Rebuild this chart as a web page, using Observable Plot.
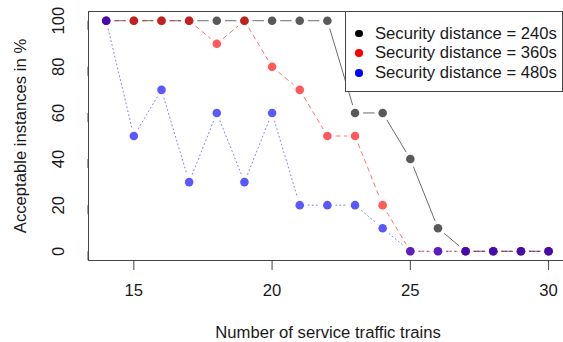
<!DOCTYPE html>
<html>
<head>
<meta charset="utf-8">
<script src="https://cdn.jsdelivr.net/npm/d3@7"></script>
<script src="https://cdn.jsdelivr.net/npm/@observablehq/plot@0.6"></script>
<style>
  html, body { margin: 0; padding: 0; background: #fff; overflow: hidden; }
  #wrap { position: relative; width: 563px; height: 342px; font-family: "Liberation Sans", Arial, Helvetica, sans-serif; }
  #legend { position: absolute; left: 345px; top: 11px; width: 218px; height: 81px; box-sizing: border-box;
            border: 1px solid #444; background: #fff; padding-top: 11.5px; }
  .row { position: relative; height: 19.7px; line-height: 19.7px; font-size: 16.67px; color: #1a1a1a; white-space: nowrap; }
  .dot { position: absolute; left: 9px; top: 6.3px; width: 7.5px; height: 7.5px; border-radius: 50%; }
  .lab { position: absolute; left: 29px; top: 0; }
</style>
</head>
<body>
<div id="wrap"></div>
<script>
// ---- data ----
const trains = [14, 15, 16, 17, 18, 19, 20, 21, 22, 23, 24, 25, 26, 27, 28, 29, 30];
const sd240 = [100, 100, 100, 100, 100, 100, 100, 100, 100, 60, 60, 40, 10, 0, 0, 0, 0];
const sd360 = [100, 100, 100, 100, 90, 100, 80, 70, 50, 50, 20, 0, 0, 0, 0, 0, 0];
const sd480 = [100, 50, 70, 30, 60, 30, 60, 20, 20, 20, 10, 0, 0, 0, 0, 0, 0];
const seriesNames = ["Security distance = 240s", "Security distance = 360s", "Security distance = 480s"];
const xTicks = [15, 20, 25, 30];
const yTicks = [0, 20, 40, 60, 80, 100];
const xTitle = "Number of service traffic trains";
const yTitle = "Acceptable instances in %";

// ---- styles ----
const pointColors = ["rgba(0,0,0,0.65)", "rgba(255,0,0,0.65)", "rgba(0,0,255,0.65)"];
const lineColors = ["rgba(0,0,0,0.58)", "rgba(255,0,0,0.55)", "rgba(0,0,255,0.5)"];
const legendColors = ["#000000", "#ff0000", "#0000ff"];
const dashes = [null, "4.2,4.2", "1,3"];

const values = [sd240, sd360, sd480];
const xDomain = [13.36, 30.54];
const yDomain = [-4, 104];

const marks = [];
// frame (left, top, bottom)
marks.push(Plot.ruleY(yDomain, {stroke: "#444", strokeWidth: 1}));
marks.push(Plot.ruleX([xDomain[0]], {stroke: "#444", strokeWidth: 1}));

values.forEach((vals, s) => {
  const pts = trains.map((t, i) => ({x: t, y: vals[i]}));
  const segs = pts.slice(1).map((p, i) => ({x1: pts[i].x, y1: pts[i].y, x2: p.x, y2: p.y}));
  marks.push(Plot.arrow(segs, {
    x1: "x1", y1: "y1", x2: "x2", y2: "y2",
    insetStart: 8.5, insetEnd: 8.5, headLength: 0,
    stroke: lineColors[s], strokeWidth: 1,
    strokeDasharray: dashes[s] || undefined
  }));
  marks.push(Plot.dot(pts, {x: "x", y: "y", r: 4.3, fill: pointColors[s], stroke: "none"}));
});

marks.push(Plot.axisX({ticks: xTicks, tickSize: 10, tickPadding: 14, label: null, stroke: "#444"}));
marks.push(Plot.axisY({ticks: yTicks, tickSize: 9, tickPadding: 21, rotate: -90, textAnchor: "middle", lineAnchor: "middle", label: null, stroke: "#444"}));
marks.push(Plot.text([xTitle], {frameAnchor: "bottom", dy: 72, dx: 2, lineAnchor: "middle", textAnchor: "middle", text: d => d}));
marks.push(Plot.text([yTitle], {frameAnchor: "left", dx: -68, rotate: -90, lineAnchor: "middle", textAnchor: "middle", text: d => d}));

const chart = Plot.plot({
  width: 563,
  height: 342,
  marginLeft: 88,
  marginRight: 0,
  marginTop: 11,
  marginBottom: 82,
  x: {domain: xDomain, axis: null},
  y: {domain: yDomain, axis: null},
  style: {fontFamily: "'Liberation Sans', Arial, Helvetica, sans-serif", fontSize: "16.67px", color: "#1a1a1a", background: "#fff"},
  marks
});
const wrap = document.getElementById("wrap");
wrap.appendChild(chart);

// legend
const legend = document.createElement("div");
legend.id = "legend";
seriesNames.forEach((name, i) => {
  const row = document.createElement("div");
  row.className = "row";
  const dot = document.createElement("span");
  dot.className = "dot";
  dot.style.background = legendColors[i];
  const lab = document.createElement("span");
  lab.className = "lab";
  lab.textContent = name;
  row.appendChild(dot);
  row.appendChild(lab);
  legend.appendChild(row);
});
wrap.appendChild(legend);
</script>
</body>
</html>
